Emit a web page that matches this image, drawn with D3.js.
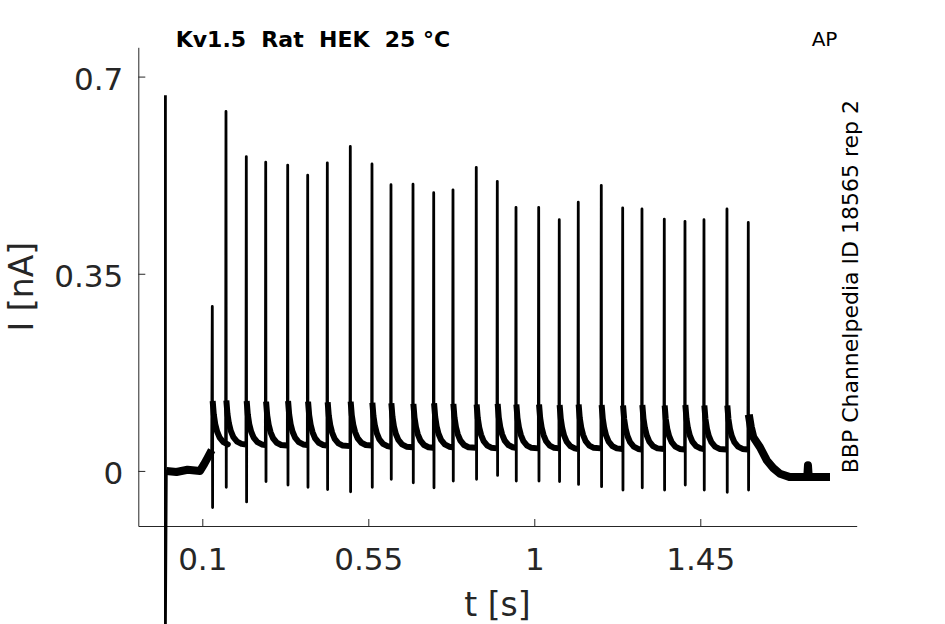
<!DOCTYPE html>
<html>
<head>
<meta charset="utf-8">
<script src="https://cdn.jsdelivr.net/npm/d3@7"></script>
<style>
  body { margin: 0; background: #fff; }
  svg { display: block; font-family: "DejaVu Sans", sans-serif; }
</style>
</head>
<body>
<div id="wrapper"></div>
<script>
// ticks
const xTicks = [0.1, 0.55, 1, 1.45]
const yTicks = [0, 0.35, 0.7]

// stimulus transient at t = 0
const stimT = 0
const stimTop = 0.667
const stimBottom = -0.28

// holding level before the train
const preT = [0.0025, 0.03, 0.06, 0.0938, 0.105, 0.115, 0.1255]
const preI = [0.0, -0.002, 0.002, 0.0, 0.012, 0.024, 0.037]

// spikes of the AP train (s, nA)
const spikeT = [0.1271, 0.1642, 0.2193, 0.2719, 0.3315, 0.3857, 0.4389, 0.5012, 0.5600,
  0.6115, 0.6712, 0.7273, 0.7796, 0.8427, 0.8997, 0.9504, 1.0119, 1.0677, 1.1192,
  1.1816, 1.2396, 1.2919, 1.3524, 1.4085, 1.4600, 1.5223, 1.5801]
const spikePeak = [0.292, 0.638, 0.558, 0.548, 0.543, 0.525, 0.547, 0.576, 0.545,
  0.508, 0.509, 0.494, 0.499, 0.539, 0.514, 0.468, 0.468, 0.446, 0.477,
  0.507, 0.467, 0.465, 0.447, 0.443, 0.446, 0.465, 0.441]
const spikeTrough = [-0.065, -0.029, -0.055, -0.019, -0.025, -0.029, -0.033, -0.037, -0.029,
  -0.015, -0.021, -0.030, -0.018, -0.015, -0.008, -0.018, -0.018, -0.019, -0.024,
  -0.028, -0.034, -0.030, -0.034, -0.025, -0.034, -0.038, -0.034]
const spikeBase = [0.037, 0.046, 0.047, 0.046, 0.045, 0.046, 0.045, 0.044, 0.045,
  0.043, 0.042, 0.041, 0.042, 0.041, 0.040, 0.041, 0.040, 0.040, 0.039,
  0.040, 0.039, 0.038, 0.039, 0.038, 0.039, 0.038, 0.038]

// shape of the decay after a spike (offset from spike, level above next base)
const decayDt = [0.001, 0.004, 0.008, 0.013, 0.02, 0.03, 0.042]
const decayDI = [0.078, 0.054, 0.037, 0.024, 0.013, 0.005, 0.001]

// tail after the last spike
const tailT = [1.5815, 1.5869, 1.5936, 1.6118, 1.6300, 1.6479, 1.6660, 1.6931, 1.7400, 1.7419, 1.7440, 1.8016]
const tailI = [0.100, 0.078, 0.060, 0.042, 0.019, 0.005, -0.005, -0.011, -0.011, 0.010, -0.011, -0.011]

function drawChart() {
  const dimensions = {
    width: 945,
    height: 624,
    margin: { top: 47.3, right: 88.3, bottom: 98, left: 138.3 },
  }
  dimensions.boundedWidth = dimensions.width - dimensions.margin.left - dimensions.margin.right
  dimensions.boundedHeight = dimensions.height - dimensions.margin.top - dimensions.margin.bottom

  const wrapper = d3.select("#wrapper")
    .append("svg")
    .attr("width", dimensions.width)
    .attr("height", dimensions.height)

  const bounds = wrapper.append("g")
    .attr("transform", `translate(${dimensions.margin.left},${dimensions.margin.top})`)

  const xScale = d3.scaleLinear()
    .domain([-0.0735, 1.874])
    .range([0, dimensions.boundedWidth])

  const yScale = d3.scaleLinear()
    .domain([-0.0978, 0.752])
    .range([dimensions.boundedHeight, 0])

  // build the trace and the noisy "band" segments
  const trace = [[stimT, stimTop], [stimT, stimBottom]]
  const bands = []
  const pre = preT.map((t, i) => [t, preI[i]])
  trace.push(...pre)
  bands.push(pre)

  spikeT.forEach((ts, i) => {
    trace.push([ts, spikePeak[i]], [ts + 0.0008, spikeTrough[i]])
    if (i < spikeT.length - 1) {
      const next = spikeBase[i + 1]
      const seg = decayDt.map((dt, j) => [ts + dt, next + decayDI[j]])
      seg.push([spikeT[i + 1] - 0.001, next])
      trace.push(...seg)
      bands.push(seg)
    }
  })
  const tail = tailT.map((t, i) => [t, tailI[i]])
  trace.push(...tail)
  bands.push(tail)

  const line = d3.line()
    .x(d => xScale(d[0]))
    .y(d => yScale(d[1]))

  // axes
  const axisColor = "#262626"
  const xAxis = bounds.append("g")
    .attr("transform", `translate(0,${dimensions.boundedHeight})`)
    .call(d3.axisBottom(xScale)
      .tickValues(xTicks)
      .tickFormat(d => String(d))
      .tickSizeInner(-7)
      .tickSizeOuter(0)
      .tickPadding(22))
  const yAxis = bounds.append("g")
    .call(d3.axisLeft(yScale)
      .tickValues(yTicks)
      .tickFormat(d => String(d))
      .tickSizeInner(-7)
      .tickSizeOuter(0)
      .tickPadding(15))

  ;[xAxis, yAxis].forEach(ax => {
    ax.attr("font-family", null).attr("font-size", null)
    ax.select(".domain").attr("stroke", axisColor).attr("stroke-width", 1)
    ax.selectAll(".tick line").attr("stroke", axisColor).attr("stroke-width", 1)
    ax.selectAll(".tick text")
      .attr("fill", axisColor)
      .style("font-size", "31px")
  })
  yAxis.selectAll(".tick text").attr("dy", "0.42em")

  // data (noise band is thicker on the holding level before and after the train)
  bounds.selectAll(".band")
    .data(bands)
    .enter().append("path")
      .attr("class", "band")
      .attr("d", line)
      .attr("fill", "none")
      .attr("stroke", "#000")
      .attr("stroke-width", (d, i) => (i === 0 || i === bands.length - 1) ? 8 : 6)
      .attr("stroke-linejoin", "round")
      .attr("stroke-linecap", "butt")

  bounds.append("path")
    .datum(trace)
    .attr("d", line)
    .attr("fill", "none")
    .attr("stroke", "#000")
    .attr("stroke-width", 2.8)
    .attr("stroke-linejoin", "round")

  // labels
  wrapper.append("text")
    .attr("x", dimensions.margin.left + dimensions.boundedWidth / 2)
    .attr("y", 616)
    .attr("text-anchor", "middle")
    .attr("fill", axisColor)
    .style("font-size", "33px")
    .text("t [s]")

  wrapper.append("text")
    .attr("transform", `translate(33.3,${dimensions.margin.top + dimensions.boundedHeight / 2}) rotate(-90)`)
    .attr("text-anchor", "middle")
    .attr("fill", axisColor)
    .style("font-size", "33px")
    .text("I [nA]")

  wrapper.append("text")
    .attr("x", 175.7)
    .attr("y", 46.7)
    .attr("fill", "#000")
    .style("font-size", "22px")
    .style("font-weight", "bold")
    .style("white-space", "pre")
    .text("Kv1.5  Rat  HEK  25 °C")

  wrapper.append("text")
    .attr("x", 811.7)
    .attr("y", 46)
    .attr("fill", "#000")
    .style("font-size", "20px")
    .text("AP")

  wrapper.append("text")
    .attr("transform", "translate(858,473.3) rotate(-90)")
    .attr("fill", "#000")
    .style("font-size", "22px")
    .text("BBP Channelpedia ID 18565 rep 2")
}

drawChart()
</script>
</body>
</html>
